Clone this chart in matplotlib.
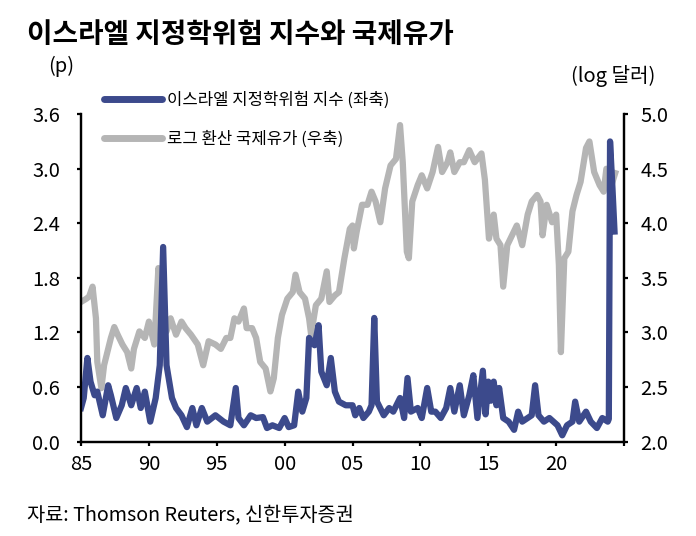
import matplotlib
matplotlib.use("Agg")
import matplotlib.pyplot as plt
from matplotlib.lines import Line2D

plt.rcParams['font.family'] = ['Noto Sans CJK KR', 'DejaVu Sans']

# 이스라엘 지정학위험 지수 (좌축)
risk_years = [1985.0, 1985.2, 1985.47, 1985.7, 1986.0, 1986.2, 1986.6, 1987.0, 1987.2, 1987.6,
              1988.0, 1988.3, 1988.7, 1989.1, 1989.4, 1989.7, 1990.1, 1990.5, 1990.8, 1991.05,
              1991.3, 1991.7, 1992.0, 1992.4, 1992.8, 1993.2, 1993.5, 1993.9, 1994.3, 1994.9,
              1995.5, 1996.0, 1996.4, 1996.6, 1997.0, 1997.5, 1997.9, 1998.4, 1998.7, 1999.1,
              1999.6, 2000.0, 2000.3, 2000.7, 2001.0, 2001.3, 2001.6, 2001.8, 2002.2, 2002.5,
              2002.7, 2003.1, 2003.4, 2003.7, 2004.0, 2004.5, 2005.0, 2005.2, 2005.5, 2005.8,
              2006.2, 2006.4, 2006.6, 2006.8, 2007.3, 2007.7, 2008.0, 2008.5, 2008.8, 2009.05,
              2009.3, 2009.8, 2010.1, 2010.5, 2010.8, 2011.1, 2011.5, 2011.9, 2012.2, 2012.5,
              2012.9, 2013.2, 2013.6, 2013.9, 2014.2, 2014.6, 2014.8, 2015.0, 2015.2, 2015.4,
              2015.6, 2015.8, 2016.1, 2016.5, 2016.9, 2017.2, 2017.5, 2017.9, 2018.2, 2018.45,
              2018.7, 2019.1, 2019.5, 2019.8, 2020.1, 2020.45, 2020.8, 2021.2, 2021.4, 2021.7,
              2022.2, 2022.55, 2023.0, 2023.4, 2023.8, 2023.88, 2023.97, 2024.15, 2024.3]
risk_vals = [0.37, 0.48, 0.92, 0.66, 0.51, 0.55, 0.29, 0.62, 0.51, 0.26,
             0.40, 0.59, 0.40, 0.59, 0.37, 0.55, 0.22, 0.48, 0.84, 2.14,
             0.84, 0.48, 0.37, 0.29, 0.16, 0.37, 0.18, 0.37, 0.22, 0.29,
             0.22, 0.18, 0.59, 0.26, 0.18, 0.29, 0.26, 0.27, 0.15, 0.18,
             0.15, 0.26, 0.16, 0.18, 0.55, 0.33, 0.48, 1.14, 1.06, 1.28,
             0.77, 0.62, 0.92, 0.55, 0.44, 0.40, 0.40, 0.29, 0.37, 0.26,
             0.33, 0.40, 1.36, 0.44, 0.29, 0.37, 0.33, 0.48, 0.26, 0.70,
             0.33, 0.37, 0.26, 0.59, 0.33, 0.33, 0.26, 0.37, 0.59, 0.33,
             0.62, 0.29, 0.51, 0.73, 0.26, 0.78, 0.30, 0.66, 0.45, 0.66,
             0.40, 0.59, 0.26, 0.22, 0.13, 0.33, 0.22, 0.26, 0.29, 0.62,
             0.29, 0.22, 0.26, 0.22, 0.18, 0.07, 0.18, 0.22, 0.44, 0.22,
             0.33, 0.22, 0.15, 0.26, 0.22, 0.25, 3.30, 2.78, 2.31]

# 로그 환산 국제유가 (우축)
oil_years = [1985.0, 1985.4, 1985.6, 1985.85, 1986.1, 1986.2, 1986.5, 1986.7, 1987.0, 1987.2,
             1987.45, 1987.7, 1988.05, 1988.4, 1988.7, 1988.9, 1989.3, 1989.7, 1990.0, 1990.4,
             1990.7, 1991.0, 1991.3, 1991.6, 1992.0, 1992.4, 1992.7, 1993.1, 1993.6, 1994.0,
             1994.4, 1994.9, 1995.3, 1995.7, 1996.0, 1996.3, 1996.6, 1997.0, 1997.2, 1997.6,
             1997.9, 1998.2, 1998.6, 1998.95, 1999.2, 1999.5, 1999.8, 2000.2, 2000.6, 2000.8,
             2001.1, 2001.5, 2001.8, 2001.95, 2002.3, 2002.7, 2003.1, 2003.3, 2003.7, 2004.0,
             2004.4, 2004.8, 2005.0, 2005.1, 2005.3, 2005.7, 2006.1, 2006.4, 2006.7, 2007.05,
             2007.4, 2007.8, 2008.2, 2008.5, 2008.7, 2009.0, 2009.15, 2009.4, 2009.8, 2010.1,
             2010.5, 2010.9, 2011.3, 2011.6, 2012.0, 2012.2, 2012.5, 2012.9, 2013.2, 2013.6,
             2014.0, 2014.5, 2014.75, 2015.05, 2015.4, 2015.6, 2015.9, 2016.1, 2016.4, 2016.75,
             2017.1, 2017.5, 2017.9, 2018.2, 2018.6, 2018.85, 2019.0, 2019.3, 2019.7, 2020.0,
             2020.2, 2020.35, 2020.6, 2020.9, 2021.2, 2021.5, 2021.8, 2022.2, 2022.45, 2022.8,
             2023.2, 2023.5, 2023.7, 2024.0, 2024.35]
oil_vals = [3.28, 3.31, 3.33, 3.42, 3.13, 2.73, 2.49, 2.70, 2.85, 2.95,
            3.05, 2.98, 2.89, 2.82, 2.67, 2.85, 3.01, 2.95, 3.10, 2.89,
            3.59, 3.22, 3.01, 3.13, 2.98, 3.10, 3.04, 2.98, 2.89, 2.70,
            2.92, 2.89, 2.85, 2.95, 2.95, 3.13, 3.10, 3.22, 3.04, 3.04,
            2.95, 2.73, 2.67, 2.46, 2.58, 2.95, 3.16, 3.31, 3.37, 3.53,
            3.37, 3.31, 3.13, 2.98, 3.25, 3.31, 3.56, 3.28, 3.34, 3.37,
            3.68, 3.95, 3.98, 3.77, 3.92, 4.17, 4.17, 4.29, 4.20, 4.01,
            4.32, 4.53, 4.59, 4.90, 4.56, 3.74, 3.68, 4.20, 4.35, 4.44,
            4.32, 4.47, 4.70, 4.47, 4.56, 4.65, 4.47, 4.56, 4.56, 4.67,
            4.56, 4.64, 4.40, 3.86, 4.08, 3.86, 3.80, 3.42, 3.80, 3.89,
            3.98, 3.80, 4.08, 4.20, 4.26, 4.20, 3.89, 4.17, 4.01, 4.08,
            3.62, 2.82, 3.68, 3.74, 4.11, 4.26, 4.38, 4.69, 4.75, 4.47,
            4.35, 4.29, 4.50, 4.32, 4.46]

x_ticks = [1985, 1990, 1995, 2000, 2005, 2010, 2015, 2020, 2025]
x_labels = ['85', '90', '95', '00', '05', '10', '15', '20', '']
left_ticks = [0.0, 0.6, 1.2, 1.8, 2.4, 3.0, 3.6]
right_ticks = [2.0, 2.5, 3.0, 3.5, 4.0, 4.5, 5.0]

BLUE = '#3c4a8c'
GRAY = '#b5b5b5'

fig = plt.figure(figsize=(6.96, 5.36), dpi=100)
ax = fig.add_axes([0.1164, 0.176, 0.7802, 0.611])
ax2 = ax.twinx()

ax2.plot(oil_years, oil_vals, color=GRAY, lw=4.5, solid_joinstyle='round')
ax.plot(risk_years, risk_vals, color=BLUE, lw=4.5, solid_joinstyle='round')
ax.set_zorder(ax2.get_zorder() + 1)
ax.patch.set_visible(False)

ax.set_xlim(1985, 2025)
ax.set_ylim(0, 3.6)
ax2.set_ylim(2.0, 5.0)
ax.set_xticks(x_ticks)
ax.set_xticklabels(x_labels)
ax.set_yticks(left_ticks)
ax.set_yticklabels([f'{v:.1f}' for v in left_ticks])
ax2.set_yticks(right_ticks)
ax2.set_yticklabels([f'{v:.1f}' for v in right_ticks])

for a in (ax, ax2):
    a.spines['top'].set_visible(False)
    for s in ('left', 'right', 'bottom'):
        a.spines[s].set_linewidth(1.6)
ax.tick_params(axis='x', direction='out', length=3, width=1.6, labelsize=14.5, pad=6)
ax.tick_params(axis='y', direction='out', length=3, width=1.6, labelsize=14.5, pad=12)
ax2.tick_params(axis='y', direction='out', length=3, width=1.6, labelsize=14.5, pad=9)

fig.text(27 / 696, 1 - 35 / 536, '이스라엘 지정학위험 지수와 국제유가',
         fontsize=20, fontweight='bold', va='center', ha='left')
fig.text(61 / 696, 1 - 66 / 536, '(p)', fontsize=14.5, ha='center', va='center')
fig.text(613 / 696, 1 - 76 / 536, '(log 달러)', fontsize=14.5, ha='center', va='center')
fig.text(27 / 696, 1 - 515 / 536, '자료: Thomson Reuters, 신한투자증권',
         fontsize=14.2, ha='left', va='center')

handles = [Line2D([], [], color=BLUE, lw=5, solid_capstyle='round'),
           Line2D([], [], color=GRAY, lw=5, solid_capstyle='round')]
fig.legend(handles, ['이스라엘 지정학위험 지수 (좌축)', '로그 환산 국제유가 (우축)'],
           loc='upper left', bbox_to_anchor=(104 / 696, 1 - 92 / 536),
           frameon=False, fontsize=12, handlelength=3.5, handletextpad=0.3,
           labelspacing=1.28, borderpad=0, borderaxespad=0)

fig.savefig('out.png', dpi=100)
